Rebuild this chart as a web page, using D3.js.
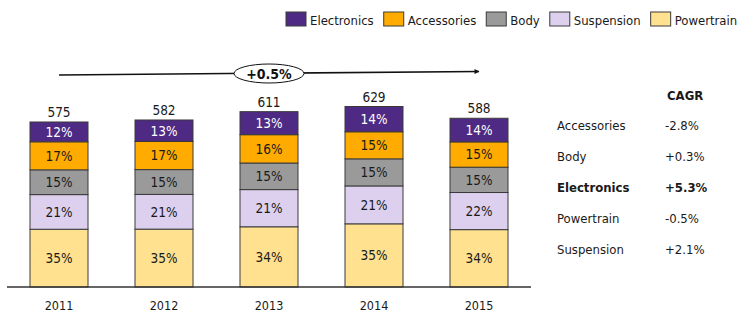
<!DOCTYPE html>
<html>
<head>
<meta charset="utf-8">
<script src="https://cdn.jsdelivr.net/npm/d3@7"></script>
<style>
  body { margin: 0; background: #fff; }
  svg { display: block; font-family: "DejaVu Sans Condensed", "DejaVu Sans", Verdana, sans-serif; font-stretch: condensed; }
</style>
</head>
<body>
<svg width="752" height="321"></svg>
<script>
// sales by year and the share of each segment (%)
var years = ["2011", "2012", "2013", "2014", "2015"];
var totals = [575, 582, 611, 629, 588];
var electronics = [12, 13, 13, 14, 14];
var accessories = [17, 17, 16, 15, 15];
var body = [15, 15, 15, 15, 15];
var suspension = [21, 21, 21, 21, 22];
var powertrain = [35, 35, 34, 35, 34];

var cagrNames = ["Accessories", "Body", "Electronics", "Powertrain", "Suspension"];
var cagrValues = ["-2.8%", "+0.3%", "+5.3%", "-0.5%", "+2.1%"];
var overallCagr = "+0.5%";

// stacked bottom-up
var keys = ["Powertrain", "Suspension", "Body", "Accessories", "Electronics"];
var legendKeys = ["Electronics", "Accessories", "Body", "Suspension", "Powertrain"];
var shares = {
  Electronics: electronics, Accessories: accessories, Body: body,
  Suspension: suspension, Powertrain: powertrain
};
var colors = {
  Electronics: "#4e2a84", Accessories: "#ffab00", Body: "#9a9a9a",
  Suspension: "#ddd0ee", Powertrain: "#ffe18f"
};
var txtColor = "#1a1a1a";
var fs = "13px";

var svg = d3.select("svg");
var barW = 58;

var rows = years.map(function(y, i){
  var sum = 0;
  keys.forEach(function(k){ sum += shares[k][i]; });
  var r = { year: y, total: totals[i] };
  keys.forEach(function(k){
    r[k] = totals[i] * shares[k][i] / sum;
    r[k + "_pct"] = shares[k][i];
  });
  return r;
});

var x = d3.scalePoint().domain(years).range([59, 479]);
var y = d3.scaleLinear().domain([0, d3.max(totals)]).range([287, 106.5]);

var stacked = d3.stack().keys(keys)(rows);

var layer = svg.selectAll("g.layer")
  .data(stacked)
  .enter()
  .append("g")
  .attr("class", "layer");

layer.selectAll("rect")
  .data(function(d){ return d.map(function(p){ return { p: p, key: d.key }; }); })
  .enter()
  .append("rect")
  .attr("x", function(d){ return x(d.p.data.year) - barW / 2; })
  .attr("y", function(d){ return y(d.p[1]); })
  .attr("width", barW)
  .attr("height", function(d){ return y(d.p[0]) - y(d.p[1]); })
  .attr("fill", function(d){ return colors[d.key]; })
  .attr("stroke", "#3a3a3a")
  .attr("stroke-width", 1);

layer.selectAll("text")
  .data(function(d){ return d.map(function(p){ return { p: p, key: d.key }; }); })
  .enter()
  .append("text")
  .attr("x", function(d){ return x(d.p.data.year); })
  .attr("y", function(d){ return (y(d.p[0]) + y(d.p[1])) / 2; })
  .attr("dy", "0.36em")
  .attr("text-anchor", "middle")
  .attr("font-size", "13.5px")
  .attr("fill", function(d){ return d.key == "Electronics" ? "#fff" : txtColor; })
  .text(function(d){ return d.p.data[d.key + "_pct"] + "%"; });

// totals above bars
svg.selectAll("text.total")
  .data(rows)
  .enter()
  .append("text")
  .attr("class", "total")
  .attr("x", function(d){ return x(d.year); })
  .attr("y", function(d){ return y(d.total) - 5; })
  .attr("text-anchor", "middle")
  .attr("font-size", "13.5px")
  .attr("fill", txtColor)
  .text(function(d){ return d.total; });

// baseline + year labels
svg.append("line")
  .attr("x1", 7).attr("x2", 531)
  .attr("y1", y(0)).attr("y2", y(0))
  .attr("stroke", "#333").attr("stroke-width", 1.5);

svg.selectAll("text.year")
  .data(years)
  .enter()
  .append("text")
  .attr("class", "year")
  .attr("x", function(d){ return x(d); })
  .attr("y", 310)
  .attr("text-anchor", "middle")
  .attr("font-size", "12.5px")
  .attr("fill", txtColor)
  .text(function(d){ return d; });

// growth arrow across the years
svg.append("defs").append("marker")
  .attr("id", "head")
  .attr("viewBox", "0 0 10 10")
  .attr("refX", 9).attr("refY", 5)
  .attr("markerWidth", 7).attr("markerHeight", 5)
  .attr("markerUnits", "userSpaceOnUse")
  .attr("orient", "auto")
  .append("path")
  .attr("d", "M0,0 L10,5 L0,10 z")
  .attr("fill", "#111");

svg.append("line")
  .attr("x1", x(years[0])).attr("y1", 75)
  .attr("x2", x(years[years.length - 1])).attr("y2", 71.5)
  .attr("stroke", "#111").attr("stroke-width", 1.5)
  .attr("marker-end", "url(#head)");

var mid = x(years[2]);
svg.append("ellipse")
  .attr("cx", mid).attr("cy", 73.5)
  .attr("rx", 35).attr("ry", 9.5)
  .attr("fill", "#fff").attr("stroke", "#111").attr("stroke-width", 1);

svg.append("text")
  .attr("x", mid).attr("y", 73.5).attr("dy", "0.36em")
  .attr("text-anchor", "middle")
  .attr("font-size", "14px").attr("font-weight", "bold")
  .attr("fill", "#111")
  .text(overallCagr);

// legend
var lx = 286;
legendKeys.forEach(function(k){
  svg.append("rect")
    .attr("x", lx).attr("y", 12)
    .attr("width", 20).attr("height", 14)
    .attr("fill", colors[k])
    .attr("stroke", "#3a3a3a");
  var t = svg.append("text")
    .attr("x", lx + 24).attr("y", 24.5)
    .attr("font-size", fs)
    .attr("fill", txtColor)
    .text(k);
  lx += 24 + t.node().getComputedTextLength() + 10;
});

// CAGR table
svg.append("text")
  .attr("x", 667).attr("y", 100)
  .attr("font-size", fs).attr("font-weight", "bold")
  .attr("fill", txtColor)
  .text("CAGR");

cagrNames.forEach(function(n, i){
  var bold = n == "Electronics" ? "bold" : "normal";
  var ry = 130 + i * 31;
  svg.append("text")
    .attr("x", 557).attr("y", ry)
    .attr("font-size", fs).attr("font-weight", bold)
    .attr("fill", txtColor)
    .text(n);
  svg.append("text")
    .attr("x", 665).attr("y", ry)
    .attr("font-size", fs).attr("font-weight", bold)
    .attr("fill", txtColor)
    .text(cagrValues[i]);
});
</script>
</body>
</html>
